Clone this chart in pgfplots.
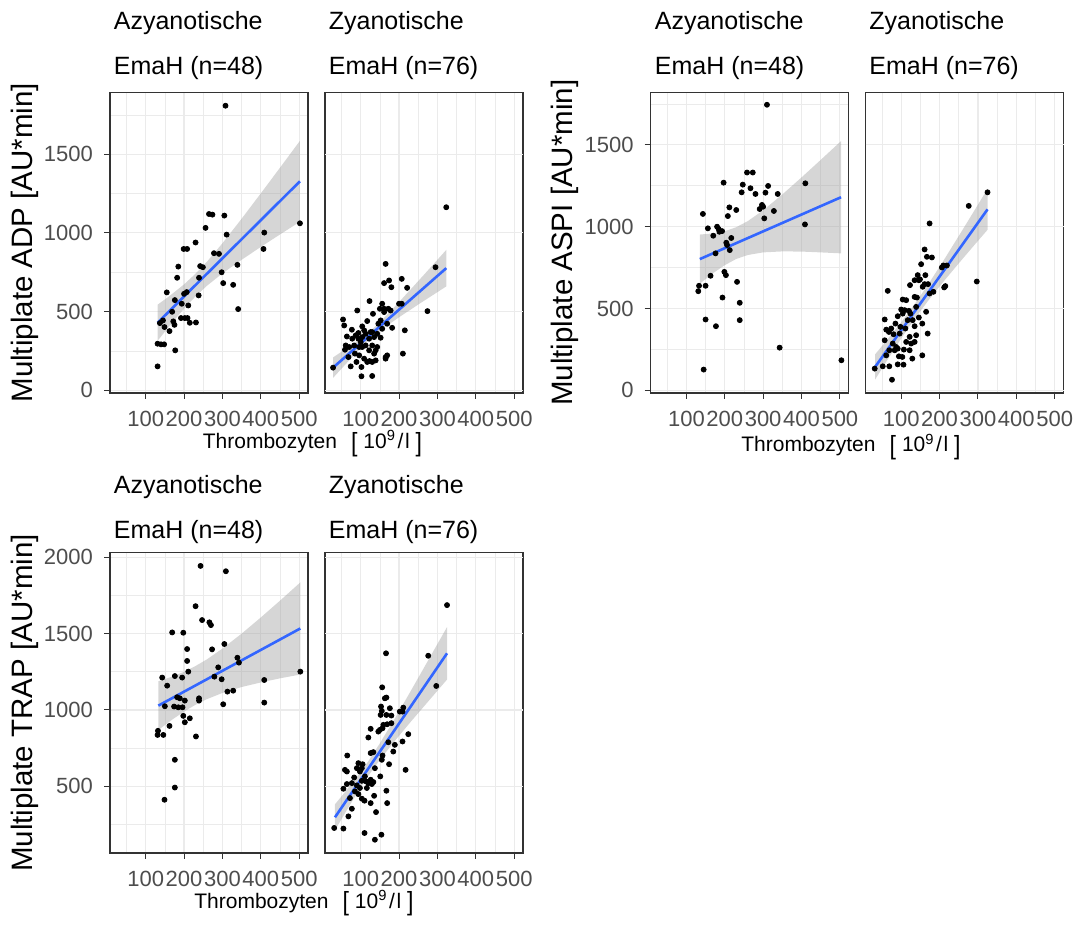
\documentclass[border=0pt]{standalone}
\usepackage{pgfplots}
\pgfplotsset{compat=1.18}
\usepackage{fontspec}
\setmainfont{Liberation Sans}
\definecolor{gridc}{HTML}{EBEBEB}
\definecolor{tickc}{HTML}{4D4D4D}
\definecolor{borderc}{HTML}{333333}
\definecolor{lmblue}{HTML}{3366FF}
\definecolor{bandc}{HTML}{999999}
\pgfplotsset{
  panel/.style={
    scale only axis, width=99pt, height=150.25pt, anchor=north west,
    xmin=7, xmax=523,
    xtick={100,200,300,400,500}, xticklabels={100,200,300,400,500},
    minor xtick={50,150,250,350,450},
    xmajorgrids=true, ymajorgrids=true, xminorgrids=true, yminorgrids=true,
    major grid style={gridc, line width=0.6pt},
    minor grid style={gridc, line width=0.3pt},
    tick pos=left,
    tick align=outside, major tick length=3pt,
    minor tick style={draw=none},
    major tick style={borderc, line width=0.5pt},
    axis line style={borderc, line width=0.65pt},
    ticklabel style={font=\fontsize{11}{13}\selectfont, text=tickc},
    xticklabel style={yshift=-2.5pt},
    yticklabel style={xshift=-2pt},
    clip=true,
  },
  adpy/.style={ymin=-17, ymax=1892, ytick={0,500,1000,1500}, minor ytick={250,750,1250,1750}},
  aspiy/.style={ymin=-16, ymax=1820, ytick={0,500,1000,1500}, minor ytick={250,750,1250,1750}},
  trapy/.style={ymin=62, ymax=2032, ytick={500,1000,1500,2000}, minor ytick={250,750,1250,1750}},
  rightp/.style={ytick=\empty, extra y ticks={#1}, extra y tick labels={},
     extra y tick style={grid=major, major tick length=0pt,
        tick style={draw=none}, major tick style={draw=none, draw opacity=0}}},
  pts/.style={only marks, mark=*, mark size=1.25pt, black},
  band/.style={fill=bandc, fill opacity=0.4, draw=none},
  fit/.style={lmblue, line width=1.3pt},
}
\begin{document}
\begin{tikzpicture}
\useasboundingbox (0,0) rectangle (538.5pt,462.5pt);
% ---------------- ADP ----------------
\begin{axis}[panel, adpy, at={(55pt,416.25pt)}, yticklabels={0,500,1000,1500}]
\addplot[pts] coordinates {(308,1808)(502,1061)(305,1110)(265,1120)(274,1116)(256,1032)(311,989)(409,1002)(407,898)(230,939)(199,898)(208,898)(278,871)(291,867)(185,786)(242,789)(249,782)(339,797)(298,750)(182,715)(239,715)(302,681)(328,670)(155,622)(200,613)(207,624)(238,603)(176,573)(194,550)(211,539)(341,516)(169,499)(145,444)(172,438)(175,416)(192,459)(202,459)(209,459)(215,429)(231,431)(149,402)(162,376)(131,296)(140,292)(148,292)(177,254)(131,152)(137,427)};
\addplot[band] coordinates {(131,544)(160,595)(200,673)(230,741)(260,818)(300,934)(350,1090)(400,1251)(450,1414)(502,1585)(502,1071)(450,990)(400,911)(350,829)(300,743)(260,665)(230,597)(200,519)(160,403)(131,314)};
\addplot[fit] coordinates {(131,429)(502,1328)};
\end{axis}
\begin{axis}[panel, adpy, rightp={0,500,1000,1500}, at={(162.5pt,416.25pt)}]
\addplot[pts] coordinates {(323,1163)(295,782)(165,803)(161,681)(174,698)(180,655)(207,708)(221,651)(274,503)(123,567)(91,507)(156,550)(150,518)(161,518)(172,518)(132,486)(207,550)(54,450)(57,412)(77,385)(104,406)(117,440)(146,423)(156,391)(182,397)(215,381)(64,342)(94,328)(104,338)(126,370)(152,334)(61,285)(59,258)(83,285)(100,307)(113,285)(130,285)(143,275)(122,254)(135,233)(96,222)(169,222)(165,201)(210,233)(109,201)(123,186)(130,180)(139,190)(117,180)(74,152)(89,180)(102,148)(28,144)(102,89)(130,91)(104,275)(70,275)(85,233)(152,444)(143,359)(113,359)(87,349)(78,328)(122,328)(135,338)(139,254)(96,275)(165,211)(161,497)(178,507)(169,423)(200,550)(130,370)(94,364)(109,381)(68,211)};
\addplot[band] coordinates {(28,209)(60,261)(100,329)(130,388)(160,458)(200,561)(250,694)(290,802)(323,892)(323,660)(290,608)(250,545)(200,464)(160,396)(130,337)(100,267)(60,164)(28,79)};
\addplot[fit] coordinates {(28,144)(323,776)};
\end{axis}
% ---------------- ASPI ----------------
\begin{axis}[panel, aspiy, at={(325.35pt,416.25pt)}, yticklabels={0,500,1000,1500}]
\addplot[pts] coordinates {(310,1745)(504,184)(343,261)(145,127)(150,433)(177,392)(239,429)(239,535)(194,567)(232,663)(199,724)(203,704)(163,700)(131,606)(133,639)(150,639)(143,1078)(156,990)(170,945)(180,1000)(184,986)(193,973)(186,969)(204,902)(213,857)(217,931)(176,837)(208,1065)(212,1118)(230,1102)(197,1269)(244,1210)(247,1257)(258,1331)(273,1331)(267,1235)(280,1200)(291,1108)(297,1133)(303,1051)(306,1208)(313,1249)(328,1096)(338,1200)(410,1265)(409,1014)(300,1122)(206,888)};
\addplot[band] coordinates {(135,952)(170,959)(200,972)(230,997)(260,1034)(300,1100)(350,1197)(400,1301)(450,1408)(503,1523)(503,837)(450,843)(400,848)(350,849)(300,843)(260,827)(230,803)(200,765)(170,717)(135,652)};
\addplot[fit] coordinates {(135,802)(503,1180)};
\end{axis}
\begin{axis}[panel, aspiy, rightp={0,500,1000,1500}, at={(432.75pt,416.25pt)}]
\addplot[pts] coordinates {(325,1210)(276,1127)(297,665)(174,1020)(161,861)(167,816)(180,812)(152,771)(210,763)(219,763)(143,704)(163,704)(149,678)(123,643)(161,649)(170,649)(184,602)(212,629)(215,637)(65,608)(104,555)(135,571)(141,567)(100,494)(109,490)(91,453)(120,486)(124,469)(146,445)(165,480)(57,433)(61,371)(68,357)(80,343)(98,388)(135,392)(111,378)(155,408)(169,347)(57,306)(83,245)(91,255)(94,208)(103,204)(113,296)(126,286)(135,296)(129,194)(155,214)(91,159)(106,157)(52,147)(69,147)(31,133)(76,65)(61,214)(69,245)(87,265)(122,327)(139,337)(117,429)(104,469)(146,673)(156,633)(206,751)(113,551)(85,408)(130,429)(78,286)(107,249)(122,245)(139,510)(96,347)(74,378)(174,592)(135,673)};
\addplot[band] coordinates {(32,220)(60,299)(100,416)(135,527)(170,646)(210,792)(250,943)(290,1096)(325,1231)(325,981)(290,886)(250,776)(210,664)(170,547)(135,437)(100,317)(60,171)(32,66)};
\addplot[fit] coordinates {(32,143)(325,1106)};
\end{axis}
% ---------------- TRAP ----------------
\begin{axis}[panel, trapy, at={(55pt,186.25pt)}, yticklabels={500,1000,1500,2000}]
\addplot[pts] coordinates {(243,1944)(309,1909)(230,1680)(247,1589)(266,1574)(270,1556)(169,1508)(198,1506)(208,1399)(208,1321)(211,1251)(273,1397)(305,1432)(339,1342)(343,1310)(289,1279)(279,1218)(298,1201)(503,1251)(409,1196)(409,1048)(302,1037)(313,1120)(328,1126)(143,1212)(156,1159)(176,1222)(195,1212)(239,1076)(239,1061)(202,1061)(182,1083)(174,1022)(185,1017)(196,1017)(150,1024)(198,961)(215,945)(202,919)(162,895)(132,863)(131,836)(146,836)(231,826)(176,673)(176,491)(149,411)(189,1076)};
\addplot[band] coordinates {(133,1188)(170,1219)(200,1250)(230,1288)(260,1332)(300,1402)(350,1500)(400,1606)(450,1716)(503,1836)(503,1232)(450,1207)(400,1180)(350,1150)(300,1111)(260,1071)(230,1034)(200,989)(170,938)(133,868)};
\addplot[fit] coordinates {(133,1028)(503,1534)};
\end{axis}
\begin{axis}[panel, trapy, rightp={500,1000,1500,2000}, at={(162.5pt,186.25pt)}]
\addplot[pts] coordinates {(325,1687)(276,1355)(297,1157)(166,1371)(156,1148)(163,1076)(167,1081)(153,1022)(155,993)(176,1011)(167,967)(180,963)(169,906)(157,880)(150,869)(126,876)(120,819)(211,1015)(209,989)(224,841)(209,793)(172,788)(185,727)(133,723)(126,717)(157,701)(155,673)(174,644)(217,607)(65,701)(94,651)(105,644)(103,618)(59,607)(64,596)(83,557)(114,531)(120,520)(129,514)(133,527)(151,564)(103,535)(90,505)(64,514)(55,483)(94,448)(103,418)(110,405)(126,389)(135,437)(167,470)(169,389)(77,352)(68,302)(140,330)(31,226)(55,222)(110,193)(154,182)(137,149)(98,596)(111,564)(126,542)(72,422)(85,466)(116,488)(137,618)(159,902)(180,913)(146,858)(189,771)(90,618)(77,520)(98,488)(152,967)(202,989)};
\addplot[band] coordinates {(33,381)(60,464)(90,560)(120,664)(150,781)(190,948)(230,1122)(270,1299)(325,1543)(325,1199)(270,1038)(230,921)(190,800)(150,673)(120,568)(90,452)(60,327)(33,211)};
\addplot[fit] coordinates {(33,296)(325,1371)};
\end{axis}
% ---------------- texts ----------------
\tikzset{strip/.style={anchor=base west, font=\fontsize{12.5}{14}\selectfont, inner sep=0pt},
  ylab/.style={rotate=90, font=\fontsize{14.75}{17}\selectfont, inner sep=0pt},
  xlab/.style={anchor=base, font=\fontsize{10.5}{12}\selectfont, inner sep=0pt}}
\newcommand\bigbr[1]{\raisebox{-1.2pt}{\scalebox{1.1}[1.25]{#1}}}
\newcommand\xlabtext{Thrombozyten\hspace{7pt}\bigbr{[}\hspace{3pt}10\textsuperscript{9}\hspace{0.8pt}/\hspace{0.8pt}l\hspace{3pt}\bigbr{]}}
\node[strip] at (56.75pt,447.5pt) {Azyanotische};
\node[strip] at (56.75pt,425pt) {EmaH (n=48)};
\node[strip] at (164.25pt,447.5pt) {Zyanotische};
\node[strip] at (164.25pt,425pt) {EmaH (n=76)};
\node[strip] at (327.25pt,447.5pt) {Azyanotische};
\node[strip] at (327.25pt,425pt) {EmaH (n=48)};
\node[strip] at (434.5pt,447.5pt) {Zyanotische};
\node[strip] at (434.5pt,425pt) {EmaH (n=76)};
\node[strip] at (56.75pt,215.85pt) {Azyanotische};
\node[strip] at (56.75pt,193.35pt) {EmaH (n=48)};
\node[strip] at (164.25pt,215.85pt) {Zyanotische};
\node[strip] at (164.25pt,193.35pt) {EmaH (n=76)};
\node[ylab] at (12.5pt,341.15pt) {Multiplate ADP [AU*min]};
\node[ylab] at (282.5pt,341.15pt) {Multiplate ASPI [AU*min]};
\node[ylab] at (12.5pt,111pt) {Multiplate TRAP [AU*min]};
\node[xlab] at (156.25pt,238.15pt) {\xlabtext};
\node[xlab] at (425.5pt,236.5pt) {\xlabtext};
\node[xlab] at (152pt,8.3pt) {\xlabtext};
\end{tikzpicture}
\end{document}
